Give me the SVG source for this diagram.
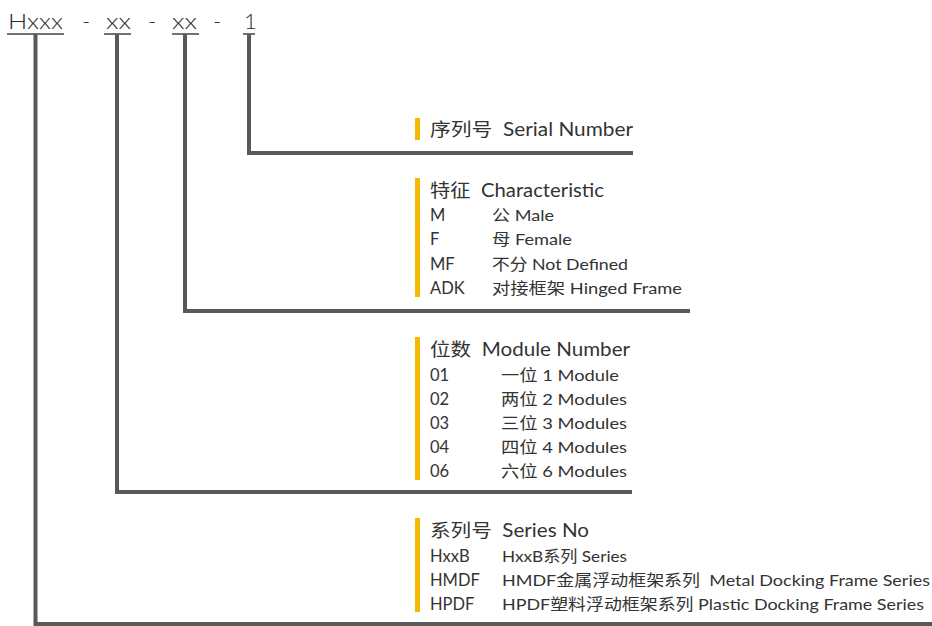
<svg xmlns="http://www.w3.org/2000/svg" width="932" height="626" viewBox="0 0 932 626">
<style>
text{font-family:"Lato","Noto Sans CJK SC",sans-serif;fill:#333;font-weight:400;}
.t{font-size:18.5px;}
.r{font-size:16px;}
.c{font-size:16.5px;}
.h{font-size:22px;fill:#2a2a2a;font-weight:300;}
.bar{fill:#f5b800;}
.ln{stroke:#595959;stroke-width:4;fill:none;}
.ul{stroke:#444;stroke-width:1.5;}
</style>
<rect width="932" height="626" fill="#fff"/>
<g id="title">
<text class="h" x="8" y="29" textLength="55" lengthAdjust="spacingAndGlyphs">Hxxx</text>
<text class="h" x="82" y="29">-</text>
<text class="h" x="106" y="29" textLength="25" lengthAdjust="spacingAndGlyphs">xx</text>
<text class="h" x="148" y="29">-</text>
<text class="h" x="172" y="29" textLength="25" lengthAdjust="spacingAndGlyphs">xx</text>
<text class="h" x="213" y="29">-</text>
<text class="h" x="244" y="29">1</text>
<line class="ul" x1="7" y1="34" x2="64" y2="34"/>
<line class="ul" x1="104" y1="34" x2="131" y2="34"/>
<line class="ul" x1="172" y1="34" x2="199" y2="34"/>
<line class="ul" x1="243" y1="34" x2="255" y2="34"/>
</g>
<g id="connectors">
<polyline class="ln" points="249,34 249,153 633,153"/>
<polyline class="ln" points="185,34 185,311 690,311"/>
<polyline class="ln" points="117,34 117,492 632,492"/>
<polyline class="ln" points="35.5,34 35.5,624 932,624" stroke-width="3"/>
</g>
<g id="serial">
<rect class="bar" x="415" y="118" width="5" height="22"/>
<text class="t" x="430" y="136" textLength="203" lengthAdjust="spacingAndGlyphs">序列号&#160; Serial Number</text>
</g>
<g id="characteristic">
<rect class="bar" x="415" y="178" width="5" height="119"/>
<text class="t" x="430" y="197" textLength="174" lengthAdjust="spacingAndGlyphs">特征&#160; Characteristic</text>
<text class="c" x="430" y="221">M</text>
<text class="r" x="492" y="221" textLength="62" lengthAdjust="spacingAndGlyphs">公 Male</text>
<text class="c" x="430" y="245">F</text>
<text class="r" x="492" y="245" textLength="80" lengthAdjust="spacingAndGlyphs">母 Female</text>
<text class="c" x="430" y="270">MF</text>
<text class="r" x="492" y="270" textLength="136" lengthAdjust="spacingAndGlyphs">不分 Not Defined</text>
<text class="c" x="430" y="294">ADK</text>
<text class="r" x="492" y="294" textLength="190" lengthAdjust="spacingAndGlyphs">对接框架 Hinged Frame</text>
</g>
<g id="module">
<rect class="bar" x="415" y="337" width="5" height="143"/>
<text class="t" x="430" y="356" textLength="200" lengthAdjust="spacingAndGlyphs">位数&#160; Module Number</text>
<text class="c" x="430" y="381">01</text>
<text class="r" x="501" y="381" textLength="118" lengthAdjust="spacingAndGlyphs">一位 1 Module</text>
<text class="c" x="430" y="405">02</text>
<text class="r" x="501" y="405" textLength="126" lengthAdjust="spacingAndGlyphs">两位 2 Modules</text>
<text class="c" x="430" y="429">03</text>
<text class="r" x="501" y="429" textLength="126" lengthAdjust="spacingAndGlyphs">三位 3 Modules</text>
<text class="c" x="430" y="453">04</text>
<text class="r" x="501" y="453" textLength="126" lengthAdjust="spacingAndGlyphs">四位 4 Modules</text>
<text class="c" x="430" y="477">06</text>
<text class="r" x="501" y="477" textLength="126" lengthAdjust="spacingAndGlyphs">六位 6 Modules</text>
</g>
<g id="series">
<rect class="bar" x="415" y="518" width="5" height="94"/>
<text class="t" x="430" y="537" textLength="159" lengthAdjust="spacingAndGlyphs">系列号&#160; Series No</text>
<text class="c" x="430" y="562">HxxB</text>
<text class="r" x="502" y="562" textLength="125" lengthAdjust="spacingAndGlyphs">HxxB系列 Series</text>
<text class="c" x="430" y="586">HMDF</text>
<text class="r" x="502" y="586" textLength="428" lengthAdjust="spacingAndGlyphs">HMDF金属浮动框架系列&#160; Metal Docking Frame Series</text>
<text class="c" x="430" y="610">HPDF</text>
<text class="r" x="502" y="610" textLength="422" lengthAdjust="spacingAndGlyphs">HPDF塑料浮动框架系列 Plastic Docking Frame Series</text>
</g>
</svg>
